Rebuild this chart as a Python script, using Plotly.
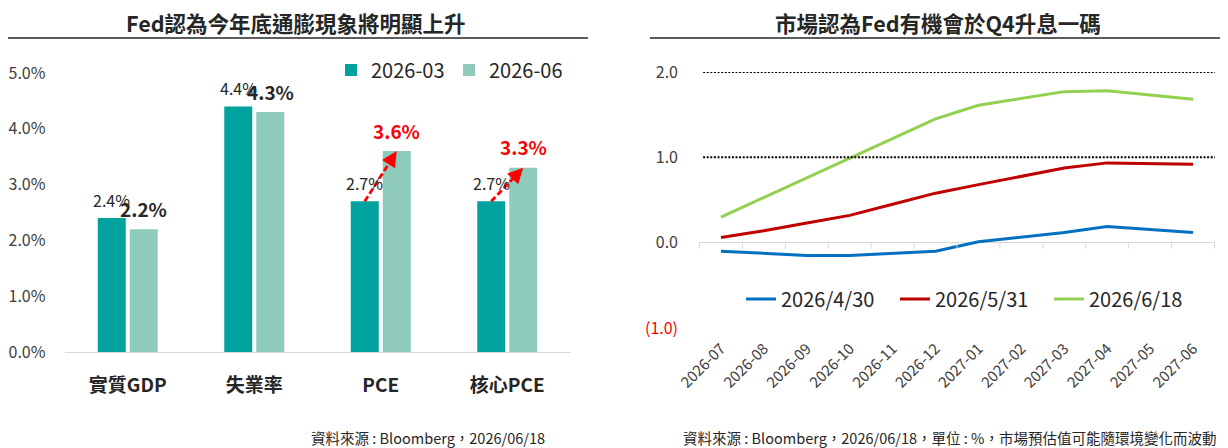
import plotly.graph_objects as go

# ---------------- Left chart data ----------------
categories = ["實質GDP", "失業率", "PCE", "核心PCE"]
bar_series = ["2026-03", "2026-06"]
values_2603 = [2.4, 4.4, 2.7, 2.7]
values_2606 = [2.2, 4.3, 3.6, 3.3]
highlight = [False, False, True, True]
left_tickvals = [0, 1, 2, 3, 4, 5]

# ---------------- Right chart data ----------------
months = ["2026-07", "2026-08", "2026-09", "2026-10", "2026-11", "2026-12",
          "2027-01", "2027-02", "2027-03", "2027-04", "2027-05", "2027-06"]
line_series = ["2026/4/30", "2026/5/31", "2026/6/18"]
rate_0430 = [-0.10, -0.125, -0.15, -0.15, -0.125, -0.10, 0.01, 0.065, 0.12, 0.19, 0.155, 0.12]
rate_0531 = [0.06, 0.14, 0.23, 0.32, 0.45, 0.58, 0.68, 0.78, 0.875, 0.935, 0.93, 0.92]
rate_0618 = [0.30, 0.53, 0.76, 0.99, 1.22, 1.45, 1.61, 1.69, 1.77, 1.78, 1.73, 1.68]
right_tickvals = [-1, 0, 1, 2]
right_gridvals = [1, 2]

title_left = "Fed認為今年底通膨現象將明顯上升"
title_right = "市場認為Fed有機會於Q4升息一碼"
source_left = "資料來源 : Bloomberg，2026/06/18"
source_right = "資料來源 : Bloomberg，2026/06/18，單位 : %，市場預估值可能隨環境變化而波動"

# ---------------- Styles ----------------
OX, OY = 8, 8          # page margin around the plot div
W, H = 1220, 440
FONT = "Noto Sans CJK TC"
TEAL = "#00A29E"
LTEAL = "#8ECBBA"
LINE_COLORS = ["#0070C0", "#C00000", "#92D050"]
DARK = "#262626"
GRAY = "#404040"
RED = "#FF0000"
BARGAP = 0.494
BARGROUPGAP = 0.125
OFF = (1 - BARGAP) / 4  # centre offset of each bar in a 2-bar group


def px(x):
    return max(0.0, min(1.0, (x - OX) / W))


def py(y):
    return max(0.0, min(1.0, 1 - (y - OY) / H))


fig = go.Figure()

for name, vals, col in zip(bar_series, [values_2603, values_2606], [TEAL, LTEAL]):
    fig.add_trace(go.Bar(x=categories, y=vals, name=name, marker=dict(color=col, line=dict(width=0)),
                         xaxis="x", yaxis="y", legend="legend", hoverinfo="skip"))

for name, vals, col in zip(line_series, [rate_0430, rate_0531, rate_0618], LINE_COLORS):
    fig.add_trace(go.Scatter(x=months, y=vals, name=name, mode="lines",
                             line=dict(color=col, width=3), xaxis="x2", yaxis="y2",
                             legend="legend2", hoverinfo="skip"))

annotations = []
shapes = []


def txt(text, x, y, size, xanchor="center", yanchor="middle", color=DARK, weight="normal"):
    return dict(text=text, x=px(x), y=py(y), xref="paper", yref="paper", xanchor=xanchor, yanchor=yanchor,
                showarrow=False, borderpad=0,
                font=dict(family=FONT, size=size, color=color, weight=weight))


# titles, rules, sources
annotations.append(txt(title_left, 296, 22, 21.5, weight="bold"))
annotations.append(txt(title_right, 938, 22, 21.5, weight="bold"))
shapes.append(dict(type="line", xref="paper", yref="paper", x0=px(5), x1=px(588), y0=py(38), y1=py(38),
                   line=dict(color=DARK, width=1.5)))
shapes.append(dict(type="line", xref="paper", yref="paper", x0=px(650), x1=px(1227), y0=py(38), y1=py(38),
                   line=dict(color=DARK, width=1.5)))
annotations.append(txt(source_left, 546, 437, 14.5, xanchor="right"))
annotations.append(txt(source_right, 1217, 437, 14.5, xanchor="right"))

# bar value labels + arrows
for i, (a, b, hl) in enumerate(zip(values_2603, values_2606, highlight)):
    annotations.append(dict(text=f"{a:.1f}%", x=i - OFF, y=a, xref="x", yref="y", yanchor="middle",
                            yshift=18, showarrow=False, font=dict(family=FONT, size=16, color=DARK)))
    annotations.append(dict(text=f"{b:.1f}%", x=i + OFF, y=b, xref="x", yref="y", yanchor="middle",
                            yshift=21, showarrow=False,
                            font=dict(family=FONT, size=19, color=RED if hl else DARK, weight="bold")))
    if hl:
        x0, y0, x1, y1 = i - OFF, a, i + OFF, b
        f = 0.72
        xm, ym = x0 + (x1 - x0) * f, y0 + (y1 - y0) * f
        shapes.append(dict(type="line", xref="x", yref="y", x0=x0, y0=y0, x1=xm, y1=ym,
                           line=dict(color=RED, width=2.8, dash="6px,3px")))
        annotations.append(dict(text="", x=x1, y=y1, ax=xm, ay=ym, xref="x", yref="y", axref="x", ayref="y",
                                showarrow=True, arrowhead=2, arrowsize=1.1, arrowwidth=2.8, arrowcolor=RED,
                                standoff=0))

# right chart: dotted gridlines and tick marks on the zero line
for g in right_gridvals:
    shapes.append(dict(type="line", xref="x2 domain", yref="y2", x0=0.008, x1=1.0, y0=g, y1=g,
                       line=dict(color="#000000", width=2, dash="2px,1.6px")))
for k in range(len(months) + 1):
    shapes.append(dict(type="line", xref="x2", yref="y2", x0=k - 0.5, x1=k - 0.5, y0=0, y1=-6,
                       ysizemode="pixel", yanchor=0, line=dict(color="#d9d9d9", width=1)))

right_ticktext = [f'<span style="color:{RED}">({abs(v):.1f})</span>' if v < 0 else f"{v:.1f}"
                  for v in right_tickvals]

fig.update_layout(
    width=W, height=H, autosize=False,
    margin=dict(l=0, r=0, t=0, b=0, pad=0, autoexpand=False),
    paper_bgcolor="white", plot_bgcolor="white",
    font=dict(family=FONT, color=DARK),
    barmode="group", bargap=BARGAP, bargroupgap=BARGROUPGAP,
    showlegend=True,
    xaxis=dict(domain=[px(64.5), px(570.5)], anchor="y", type="category", showline=True,
               linecolor="#d9d9d9", linewidth=1, automargin=False,
               ticks="", showgrid=False, ticklabelstandoff=16,
               tickfont=dict(family=FONT, size=19, color=DARK, weight="bold")),
    yaxis=dict(domain=[py(352), py(73)], anchor="x", range=[0, 5], tickvals=left_tickvals,
               ticktext=[f"{v:.1f}%" for v in left_tickvals], showgrid=False, zeroline=False,
               showline=False, ticks="", ticklabelstandoff=18, automargin=False,
               tickfont=dict(family=FONT, size=16, color=GRAY)),
    xaxis2=dict(domain=[px(699), px(1215)], anchor="y2", type="category", showline=False, ticks="",
                showgrid=False, tickangle=-45, ticklabelstandoff=8, automargin=False,
                tickfont=dict(family=FONT, size=15, color=GRAY)),
    yaxis2=dict(domain=[py(328), py(72)], anchor="x2", range=[-1, 2], tickvals=right_tickvals,
                ticktext=right_ticktext, showgrid=False, zeroline=True, zerolinecolor="#d9d9d9",
                zerolinewidth=1, showline=False, ticks="", ticklabelstandoff=20, automargin=False,
                tickfont=dict(family=FONT, size=16, color=GRAY)),
    legend=dict(orientation="h", x=px(331), y=py(70), xanchor="left", yanchor="middle",
                bgcolor="rgba(0,0,0,0)", font=dict(family=FONT, size=20, color=DARK),
                entrywidth=73, itemclick=False),
    legend2=dict(orientation="h", x=px(741), y=py(299), xanchor="left", yanchor="middle",
                 bgcolor="rgba(0,0,0,0)", font=dict(family=FONT, size=20, color=DARK),
                 entrywidth=109, itemclick=False),
    annotations=annotations,
    shapes=shapes,
)

fig.write_html("out.html")
